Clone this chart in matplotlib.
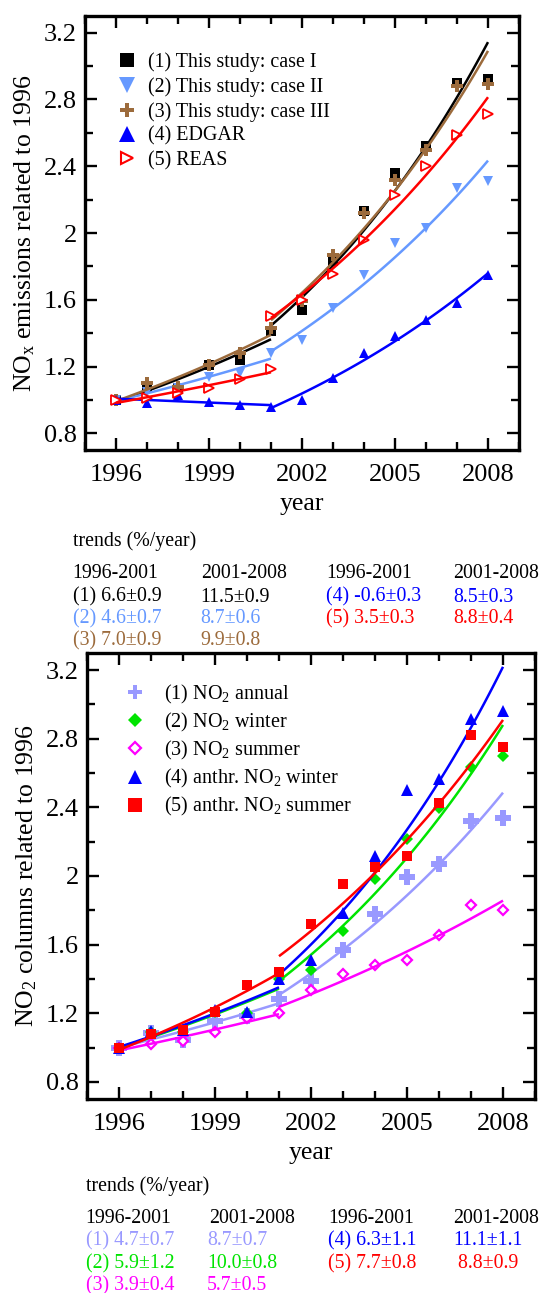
import numpy as np
import matplotlib
matplotlib.use('Agg')
import matplotlib.pyplot as plt
from matplotlib.lines import Line2D
from matplotlib.ticker import MultipleLocator

plt.rcParams['font.family'] = ['Liberation Serif', 'DejaVu Serif']
plt.rcParams['mathtext.fontset'] = 'custom'
plt.rcParams['mathtext.rm'] = 'Liberation Serif'
plt.rcParams['mathtext.it'] = 'Liberation Serif:italic'

# ---------------- data ----------------
years = np.arange(1996, 2009)
split_year = 2001
xtick_years = [1996, 1999, 2002, 2005, 2008]
ytick_vals = [0.8, 1.2, 1.6, 2.0, 2.4, 2.8, 3.2]
ytick_labels = ['0.8', '1.2', '1.6', '2', '2.4', '2.8', '3.2']

# top panel: NOx emissions related to 1996
em_case1 = [1.00, 1.08, 1.07, 1.21, 1.24, 1.41, 1.54, 1.83, 2.13, 2.36, 2.52, 2.90, 2.92]
em_case2 = [1.00, 1.05, 1.07, 1.14, 1.16, 1.28, 1.36, 1.55, 1.75, 1.94, 2.03, 2.27, 2.31]
em_case3 = [1.00, 1.10, 1.08, 1.21, 1.28, 1.43, 1.59, 1.87, 2.12, 2.32, 2.50, 2.88, 2.89]
em_edgar = [1.00, 0.98, 1.03, 0.99, 0.97, 0.96, 1.00, 1.13, 1.28, 1.38, 1.48, 1.58, 1.75]
reas_years_early = [1996, 1997, 1998, 1999, 2000, 2001]
reas_early = [1.00, 1.01, 1.04, 1.07, 1.125, 1.185]
reas_years_late = [2001, 2002, 2003, 2004, 2005, 2006, 2007, 2008]
reas_late = [1.50, 1.60, 1.755, 1.96, 2.23, 2.40, 2.59, 2.71]

top_labels = ['(1) This study: case I', '(2) This study: case II',
              '(3) This study: case III', '(4) EDGAR', '(5) REAS']

# bottom panel: NO2 columns related to 1996
no2_annual = [1.00, 1.085, 1.046, 1.153, 1.182, 1.285, 1.386, 1.571, 1.776, 1.994, 2.071, 2.322, 2.338]
no2_winter = [1.00, 1.09, 1.09, 1.21, 1.20, 1.40, 1.454, 1.677, 1.982, 2.215, 2.396, 2.638, 2.70]
no2_summer = [1.00, 1.023, 1.036, 1.089, 1.17, 1.20, 1.334, 1.431, 1.479, 1.508, 1.654, 1.829, 1.80]
anthr_winter = [1.00, 1.095, 1.10, 1.22, 1.21, 1.40, 1.512, 1.784, 2.118, 2.502, 2.563, 2.915, 2.962]
anthr_summer = [1.00, 1.08, 1.10, 1.21, 1.367, 1.438, 1.722, 1.953, 2.05, 2.118, 2.425, 2.823, 2.751]

bot_labels = ['(1) NO$_\\mathregular{2}$ annual', '(2) NO$_\\mathregular{2}$ winter',
              '(3) NO$_\\mathregular{2}$ summer', '(4) anthr. NO$_\\mathregular{2}$ winter',
              '(5) anthr. NO$_\\mathregular{2}$ summer']

# trend tables (%/year)
periods = ['1996-2001', '2001-2008']
top_trend_rows = [('(1) 6.6±0.9', '11.5±0.9'), ('(2) 4.6±0.7', '8.7±0.6'), ('(3) 7.0±0.9', '9.9±0.8'),
                  ('(4) -0.6±0.3', '8.5±0.3'), ('(5) 3.5±0.3', '8.8±0.4')]
bot_trend_rows = [('(1) 4.7±0.7', '8.7±0.7'), ('(2) 5.9±1.2', '10.0±0.8'), ('(3) 3.9±0.4', '5.7±0.5'),
                  ('(4) 6.3±1.1', '11.1±1.1'), ('(5) 7.7±0.8', ' 8.8±0.9')]

# colours
BLACK, LBLUE, BROWN, BLUE, RED = 'black', '#6699FF', '#9C6B3C', '#0000FF', '#FF0000'
LAV, GREEN, MAG = '#9999FF', '#00E400', '#FF00FF'
top_colors = [BLACK, LBLUE, BROWN, BLUE, RED]
bot_colors = [LAV, GREEN, MAG, BLUE, RED]

W, H = 539, 1293
fig = plt.figure(figsize=(W / 100, H / 100), dpi=100)
ax1 = fig.add_axes([85 / W, 1 - 450 / H, 434 / W, 434 / H])
ax2 = fig.add_axes([87 / W, 1 - 1099 / H, 448 / W, 446 / H])


def fit_curve(x, y):
    x = np.asarray(x, float)
    y = np.asarray(y, float)
    p = np.polyfit(x - x[0], np.log(y), 1)
    xx = np.linspace(x[0], x[-1], 120)
    return xx, np.exp(np.polyval(p, xx - x[0]))


def plot_series(ax, x, y, lcolor, lw=1.8, split=True, **mk):
    x = np.asarray(x)
    y = np.asarray(y)
    ax.plot(x, y, linestyle='none', **mk)
    if split:
        e = x <= split_year
        l = x >= split_year
        for m in (e, l):
            xx, yy = fit_curve(x[m], y[m])
            ax.plot(xx, yy, color=lcolor, lw=lw, solid_capstyle='butt')
    else:
        xx, yy = fit_curve(x, y)
        ax.plot(xx, yy, color=lcolor, lw=lw, solid_capstyle='butt')


def style_axes(ax):
    ax.set_xlim(1995, 2009)
    ax.set_ylim(0.7, 3.3)
    ax.set_xticks(xtick_years)
    ax.set_xticklabels([str(y) for y in xtick_years])
    ax.xaxis.set_minor_locator(MultipleLocator(1))
    ax.set_yticks(ytick_vals)
    ax.set_yticklabels(ytick_labels)
    ax.yaxis.set_minor_locator(MultipleLocator(0.2))
    ax.tick_params(which='both', direction='in', top=True, right=True, width=1.7)
    ax.tick_params(which='major', length=8.5, labelsize=19, pad=6)
    ax.tick_params(which='minor', length=6)
    ax.tick_params(axis='x', which='major', pad=10)
    for s in ax.spines.values():
        s.set_linewidth(2.4)
    ax.set_xlabel('year', fontsize=18.5, labelpad=5)


# ---------------- top panel ----------------
plot_series(ax1, years, em_case1, BLACK, marker='s', ms=6.7, color=BLACK, mew=0)
plot_series(ax1, years, em_case2, LBLUE, marker='v', ms=7.5, color=LBLUE, mew=0)
plot_series(ax1, years, em_case3, BROWN, marker='P', ms=9, color=BROWN, mew=0)
plot_series(ax1, years, em_edgar, BLUE, marker='^', ms=7.5, color=BLUE, mew=0)
plot_series(ax1, reas_years_early, reas_early, RED, split=False, marker='>', ms=6.5,
            mfc='white', mec=RED, mew=1.3)
plot_series(ax1, reas_years_late, reas_late, RED, split=False, marker='>', ms=6.5,
            mfc='white', mec=RED, mew=1.3)
style_axes(ax1)
ax1.set_ylabel('NO$_\\mathregular{x}$ emissions related to 1996', fontsize=18.5)
ax1.yaxis.set_label_coords(-0.111, 0.5)

top_handles = [
    Line2D([], [], ls='none', marker='s', ms=10, color=BLACK, mew=0),
    Line2D([], [], ls='none', marker='v', ms=11, color=LBLUE, mew=0),
    Line2D([], [], ls='none', marker='P', ms=10.5, color=BROWN, mew=0),
    Line2D([], [], ls='none', marker='^', ms=11, color=BLUE, mew=0),
    Line2D([], [], ls='none', marker='>', ms=8.5, mfc='white', mec=RED, mew=1.5),
]
ax1.legend(top_handles, top_labels, loc='upper left', bbox_to_anchor=(0.074, 0.916),
           frameon=False, fontsize=14.4, handlelength=1.0, handletextpad=0.53,
           labelspacing=0.25, borderpad=0, borderaxespad=0)

# ---------------- bottom panel ----------------
plot_series(ax2, years, no2_annual, LAV, marker='P', ms=11.3, color=LAV, mew=0)
plot_series(ax2, years, no2_winter, GREEN, marker='D', ms=6.5, color=GREEN, mew=0)
plot_series(ax2, years, no2_summer, MAG, marker='D', ms=5.6, mfc='white', mec=MAG, mew=1.6)
plot_series(ax2, years, anthr_winter, BLUE, marker='^', ms=8.6, color=BLUE, mew=0)
plot_series(ax2, years, anthr_summer, RED, marker='s', ms=7.7, color=RED, mew=0)
style_axes(ax2)
ax2.set_ylabel('NO$_\\mathregular{2}$ columns related to 1996', fontsize=18.5)
ax2.yaxis.set_label_coords(-0.108, 0.5)

bot_handles = [
    Line2D([], [], ls='none', marker='P', ms=9.5, color=LAV, mew=0),
    Line2D([], [], ls='none', marker='D', ms=7.5, color=GREEN, mew=0),
    Line2D([], [], ls='none', marker='D', ms=6.5, mfc='white', mec=MAG, mew=1.6),
    Line2D([], [], ls='none', marker='^', ms=10, color=BLUE, mew=0),
    Line2D([], [], ls='none', marker='s', ms=10, color=RED, mew=0),
]
ax2.legend(bot_handles, bot_labels, loc='upper left', bbox_to_anchor=(0.085, 0.933),
           frameon=False, fontsize=14.5, handlelength=1.0, handletextpad=0.95,
           labelspacing=0.25, borderpad=0, borderaxespad=0)


# ---------------- trend tables ----------------
def ftext(x, y, s, color='black'):
    fig.text(x / W, 1 - y / H, s, color=color, fontsize=14.3, va='baseline', ha='left')


def trend_table(x_cols, x_vals, y_title, y_head, y_rows, rows, colors):
    ftext(x_cols[0], y_title, 'trends (%/year)')
    for i, xc in enumerate(x_cols):
        ftext(xc, y_head, periods[i % 2])
    for k, (a, b) in enumerate(rows):
        side = 0 if k < 3 else 1
        yr = y_rows[k if k < 3 else k - 3]
        ftext(x_cols[2 * side], yr, a, colors[k])
        ftext(x_vals[side], yr, b, colors[k])


trend_table([72.6, 201, 326.5, 452.7], [200, 453.5], 546, 578.5, [601.8, 623.5, 645],
            top_trend_rows, top_colors)
trend_table([85.7, 209, 328, 452.7], [207, 453], 1191, 1223, [1245, 1268.5, 1290],
            bot_trend_rows, bot_colors)

fig.savefig('out.png', dpi=100)
